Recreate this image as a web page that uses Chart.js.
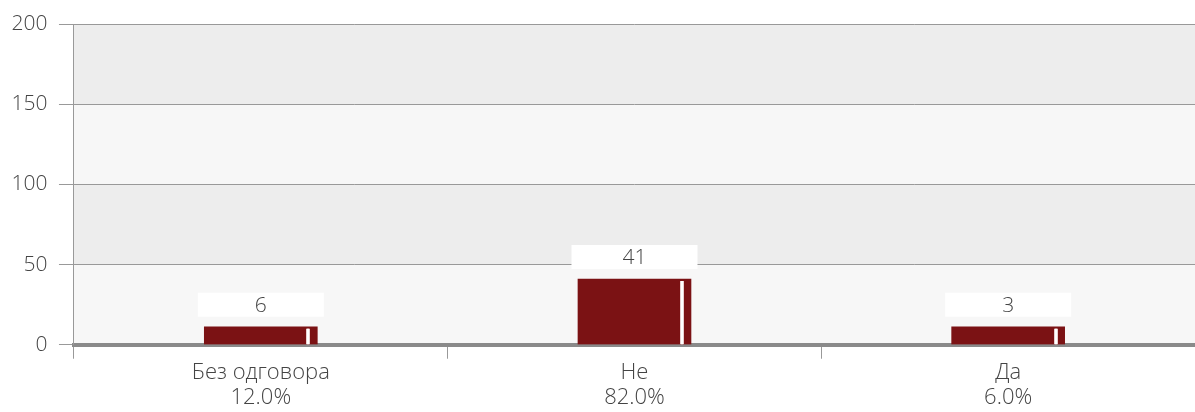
<!DOCTYPE html>
<html>
<head>
<meta charset="utf-8">
<script src="https://cdn.jsdelivr.net/npm/chart.js@4"></script>
<style>
  html, body { margin: 0; padding: 0; background: #fff; }
  #wrap { width: 1195px; height: 412px; }
</style>
</head>
<body>
<div id="wrap"><canvas id="chart" width="1195" height="412"></canvas></div>
<script>
// data
var categories = ['Без одговора', 'Не', 'Да']
var counts     = [6, 41, 3]
var yTicks     = [0, 50, 100, 150, 200]

var total = counts.reduce(function (a, b) { return a + b }, 0)
var percents = counts.map(function (v) { return (v / total * 100).toFixed(1) + '%' })

var FONT = "'Open Sans', sans-serif"

// alternating horizontal bands behind the bars
var bands = {
	id: 'bands',
	beforeDraw: function (chart) {
		var ctx = chart.ctx, area = chart.chartArea, y = chart.scales.y
		ctx.save()
		for (var i = 0; i < yTicks.length - 1; i++) {
			var top = y.getPixelForValue(yTicks[i + 1])
			var bot = y.getPixelForValue(yTicks[i])
			ctx.fillStyle = (i % 2 == 0) ? '#f7f7f7' : '#ededed'
			ctx.fillRect(area.left, top, area.right - area.left, bot - top)
		}
		ctx.restore()
	}
}

// white value boxes above bars + thin highlight stripe inside each bar
var barDecor = {
	id: 'barDecor',
	afterDatasetsDraw: function (chart) {
		var ctx = chart.ctx
		var meta = chart.getDatasetMeta(0)
		ctx.save()
		meta.data.forEach(function (bar, i) {
			var p = bar.getProps(['x', 'y', 'base', 'width'], true)
			// stripe
			var sx = Math.round(p.x + p.width / 2 - 10)
			ctx.fillStyle = '#e9cfcf'
			ctx.fillRect(sx - 1, p.y + 2, 4, p.base - p.y - 2)
			ctx.fillStyle = '#ffffff'
			ctx.fillRect(sx, p.y + 2, 2, p.base - p.y - 2)
			// label box
			var bw = 126, bh = 24
			var bx = p.x - bw / 2, by = p.y - 10 - bh
			ctx.fillStyle = '#ffffff'
			ctx.fillRect(bx, by, bw, bh)
			ctx.fillStyle = '#444'
			ctx.font = '300 21px ' + FONT
			ctx.textAlign = 'center'
			ctx.textBaseline = 'middle'
			ctx.fillText(String(counts[i]), p.x, by + bh / 2 + 1)
		})
		ctx.restore()
	}
}

new Chart(document.getElementById('chart'), {
	type: 'bar',
	data: {
		labels: categories.map(function (c, i) { return [c, percents[i]] }),
		datasets: [{
			data: counts,
			backgroundColor: '#7b1214',
			borderWidth: 0,
			barThickness: 113,
			minBarLength: 18
		}]
	},
	options: {
		responsive: false,
		animation: false,
		layout: { padding: { top: 23, right: 0, left: 0, bottom: 0 } },
		plugins: {
			legend: { display: false },
			tooltip: { enabled: false }
		},
		scales: {
			x: {
				offset: true,
				border: { display: true, color: '#8a8a8a', width: 4 },
				grid: { display: true, offset: true, drawOnChartArea: false, drawTicks: true, tickLength: 14, color: '#999' },
				ticks: { color: '#444', padding: 2, font: { family: FONT, size: 22, weight: 300, lineHeight: 1.12 } }
			},
			y: {
				min: 0,
				max: 200,
				afterBuildTicks: function (axis) {
					axis.ticks = yTicks.map(function (v) { return { value: v } })
				},
				border: { display: true, color: '#999', width: 1 },
				grid: { color: '#999', lineWidth: 1, tickLength: 15 },
				ticks: { color: '#444', padding: 11.5, font: { family: FONT, size: 21, weight: 300 } }
			}
		}
	},
	plugins: [bands, barDecor]
})
</script>
</body>
</html>
